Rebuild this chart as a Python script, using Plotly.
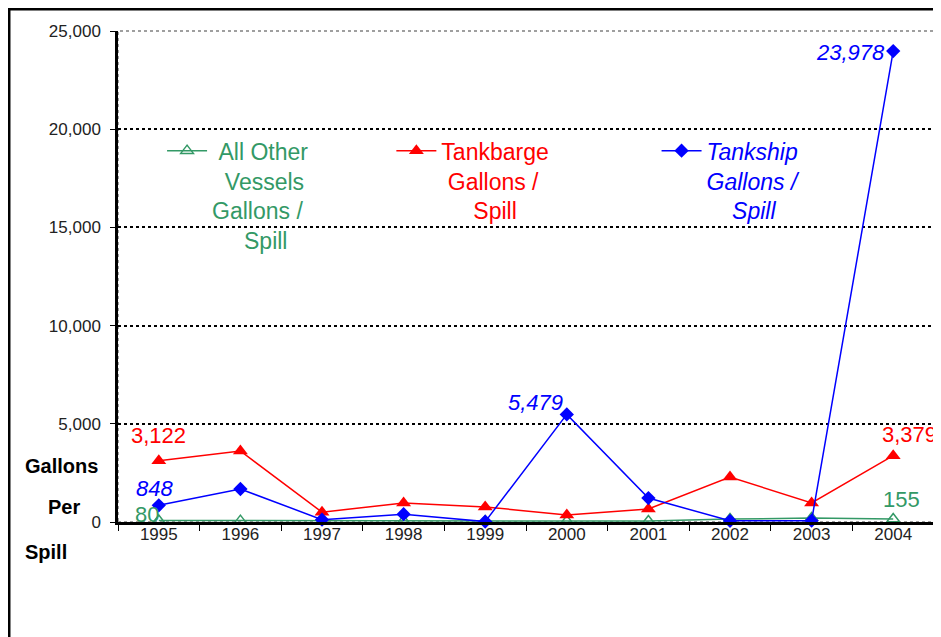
import plotly.graph_objects as go

years = ['1995', '1996', '1997', '1998', '1999', '2000', '2001', '2002', '2003', '2004']
other_vessels = [80, 70, 50, 60, 50, 50, 50, 150, 200, 155]
tankbarge = [3122, 3615, 500, 970, 770, 360, 660, 2290, 970, 3379]
tankship = [848, 1680, 120, 400, 20, 5479, 1220, 60, 70, 23978]

GREEN = '#339966'
RED = '#FF0000'
BLUE = '#0000FF'
FONT = 'Liberation Sans, Arial, sans-serif'

fig = go.Figure()

# serie verde: triangulo abierto
fig.add_trace(go.Scatter(
    x=years, y=other_vessels, mode='lines+markers', cliponaxis=False,
    name='&nbsp;All Other<br>&nbsp;&nbsp;Vessels<br>Gallons /<br>&nbsp;&nbsp;&nbsp;&nbsp;&nbsp;Spill',
    line=dict(color=GREEN, width=1.5),
    marker=dict(symbol='triangle-up-open', size=11, color=GREEN, line=dict(width=1.5)),
    legend='legend'))
fig.add_trace(go.Scatter(
    x=years, y=tankbarge, mode='lines+markers', cliponaxis=False,
    name='Tankbarge<br>&nbsp;Gallons /<br>&nbsp;&nbsp;&nbsp;&nbsp;&nbsp;Spill',
    line=dict(color=RED, width=1.5),
    marker=dict(symbol='triangle-up', size=13, color=RED),
    legend='legend2'))
fig.add_trace(go.Scatter(
    x=years, y=tankship, mode='lines+markers', cliponaxis=False,
    name='<i>Tankship<br>Gallons /<br>&nbsp;&nbsp;&nbsp;&nbsp;Spill</i>',
    line=dict(color=BLUE, width=1.5),
    marker=dict(symbol='diamond', size=11, color=BLUE),
    legend='legend3'))

# etiquetas de datos (indice de categoria, serie, color, cursiva, desplazamientos)
labels = [
    (0, tankbarge, RED, False, 0, 25, 'center'),
    (0, tankship, BLUE, True, -4, 17, 'center'),
    (0, other_vessels, GREEN, False, -12, 6, 'center'),
    (5, tankship, BLUE, True, -2, 12, 'right'),
    (9, tankship, BLUE, True, -6, -1, 'right'),
    (9, tankbarge, RED, False, 16, 21, 'center'),
    (9, other_vessels, GREEN, False, 8, 19, 'center'),
]
for i, serie, c, it, xs, ys, anchor in labels:
    txt = f'{serie[i]:,}'
    if it:
        txt = f'<i>{txt}</i>'
    fig.add_annotation(x=i, y=serie[i], text=txt, showarrow=False, xanchor=anchor,
                       yanchor='middle', xshift=xs, yshift=ys,
                       font=dict(size=22, color=c, family=FONT))

# titulo del eje y, en tres lineas separadas
for txt, px, py in [('Gallons', -0.116, 0.114), ('Per', -0.088, 0.031), ('Spill', -0.116, -0.061)]:
    fig.add_annotation(xref='paper', yref='paper', x=px, y=py, text=f'<b>{txt}</b>',
                       showarrow=False, xanchor='left', yanchor='middle',
                       font=dict(size=20, color='black', family=FONT))

# marco exterior y borde del area de trazado
fig.add_shape(type='rect', xref='paper', yref='paper', x0=-0.1336, y0=-0.4,
              x1=1.05, y1=1.045, line=dict(color='black', width=3), layer='below')
fig.add_shape(type='rect', xref='paper', yref='paper', x0=0, y0=0, x1=1, y1=1,
              line=dict(color='#808080', width=1.5, dash='dot'), layer='below')

leg_font = dict(size=23, family=FONT)
leg_common = dict(yanchor='top', xanchor='left', y=0.80, bgcolor='rgba(0,0,0,0)',
                  itemwidth=40, valign='top')
fig.update_layout(
    width=941, height=637,
    margin=dict(l=110, r=15, t=23, b=123, autoexpand=False),
    paper_bgcolor='white', plot_bgcolor='white',
    font=dict(family=FONT, color='black'),
    showlegend=True,
    legend=dict(x=0.054, font=dict(color=GREEN, **leg_font), **leg_common),
    legend2=dict(x=0.335, font=dict(color=RED, **leg_font), **leg_common),
    legend3=dict(x=0.66, font=dict(color=BLUE, **leg_font), **leg_common),
    xaxis=dict(type='category', range=[-0.5, 9.5], showline=True, linecolor='black',
               linewidth=2.5, ticks='outside', tickson='boundaries', ticklen=6,
               tickcolor='black', tickangle=0, ticklabelstandoff=-5,
               tickfont=dict(size=17, color='#222222'), showgrid=False, zeroline=False),
    yaxis=dict(range=[0, 25000], dtick=5000, tickformat=',d', showline=True,
               linecolor='black', linewidth=2.5, ticks='outside', ticklen=5,
               tickcolor='black', tickfont=dict(size=17, color='#222222'),
               ticklabelstandoff=6,
               showgrid=True, gridcolor='black', griddash='dot', gridwidth=1.5,
               zeroline=False),
)

fig.write_html('out.html')
